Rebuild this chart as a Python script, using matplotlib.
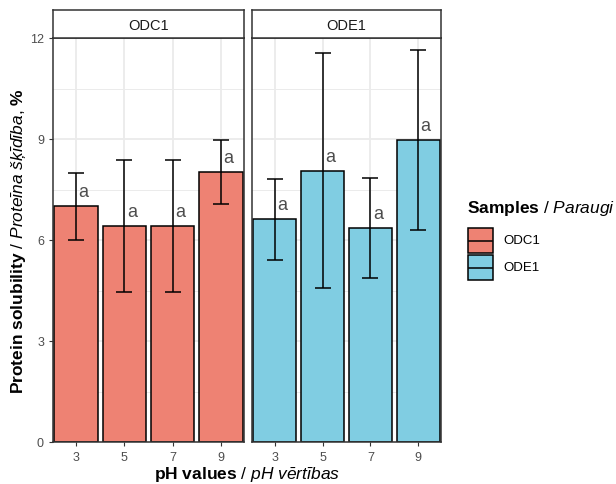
import matplotlib
matplotlib.use("Agg")
import matplotlib.pyplot as plt
import numpy as np
from matplotlib.patches import Rectangle

plt.rcParams['font.family'] = ['Liberation Sans', 'DejaVu Sans']
plt.rcParams['mathtext.fontset'] = 'custom'
plt.rcParams['mathtext.rm'] = 'Liberation Sans'
plt.rcParams['mathtext.it'] = 'Liberation Sans:italic'
plt.rcParams['mathtext.bf'] = 'Liberation Sans:bold'

# data
ph_labels = ['3', '5', '7', '9']
samples = ['ODC1', 'ODE1']
odc1_mean = [7.0, 6.42, 6.42, 8.02]
odc1_err = [1.0, 1.95, 1.95, 0.95]
ode1_mean = [6.62, 8.06, 6.36, 8.97]
ode1_err = [1.2, 3.48, 1.49, 2.68]
letters = ['a', 'a', 'a', 'a']

colors = {'ODC1': '#EE8273', 'ODE1': '#80CDE2'}
means = {'ODC1': odc1_mean, 'ODE1': ode1_mean}
errs = {'ODC1': odc1_err, 'ODE1': ode1_err}

W, H = 616, 485
fig = plt.figure(figsize=(W / 100, H / 100), dpi=100)

def px_axes(x0, y0, x1, y1):
    return fig.add_axes([x0 / W, (H - y1) / H, (x1 - x0) / W, (y1 - y0) / H])

panels = [(53, 244), (252, 441)]
x = np.arange(len(ph_labels))

for i, (s, (xl, xr)) in enumerate(zip(samples, panels)):
    ax = px_axes(xl, 39, xr, 443)
    ax.set_xlim(-0.48, 3.48)
    ax.set_ylim(0, 12)
    ax.set_yticks([0, 3, 6, 9, 12])
    ax.set_yticks([1.5, 4.5, 7.5, 10.5], minor=True)
    ax.set_xticks(x)
    ax.set_xticklabels(ph_labels)
    ax.grid(which='major', color='#EBEBEB', linewidth=1.3)
    ax.grid(which='minor', axis='y', color='#EBEBEB', linewidth=0.7)
    ax.set_axisbelow(True)
    ax.bar(x, means[s], width=0.9, color=colors[s], edgecolor='black', linewidth=1.1, zorder=2)
    ax.errorbar(x, means[s], yerr=errs[s], fmt='none', ecolor='black', elinewidth=1.1,
                capsize=5.8, capthick=1.1, zorder=3)
    for xi, m, lab in zip(x, means[s], letters):
        ax.annotate(lab, (xi, m), xytext=(1.8, 7.2), textcoords='offset points',
                    ha='left', va='baseline', fontsize=13, color='#4D4D4D', zorder=4)
    for sp in ax.spines.values():
        sp.set_color('#333333')
        sp.set_linewidth(1.1)
    ax.tick_params(axis='both', colors='#333333', labelcolor='#4D4D4D', labelsize=9,
                   length=3, width=0.8)
    ax.tick_params(axis='y', which='minor', length=0)
    if i > 0:
        ax.tick_params(axis='y', left=False, labelleft=False)
    # strip
    st = px_axes(xl, 11, xr, 39)
    st.set_xticks([])
    st.set_yticks([])
    for sp in st.spines.values():
        sp.set_color('#333333')
        sp.set_linewidth(1.1)
    st.text(0.5, 0.45, s, ha='center', va='center', fontsize=10.5, color='#1A1A1A',
            transform=st.transAxes)

fig.text(247 / W, (H - 475) / H,
         r'$\mathbf{pH\ values}$ / $\mathit{pH\ vērtības}$',
         ha='center', va='center', fontsize=12.5)
fig.text(19 / W, (H - 241) / H,
         r'$\mathbf{Protein\ solubility}$ / $\mathit{Proteīna\ šķīdība}$, $\mathbf{\%}$',
         ha='center', va='center', rotation=90, fontsize=12.5)

# legend
fig.text(467 / W, (H - 208) / H, r'$\mathbf{Samples}$ / $\mathit{Paraugi}$',
         ha='left', va='center', fontsize=12.5)
for j, s in enumerate(samples):
    y0 = 229 + j * 27
    kx = 468
    fig.patches.append(Rectangle((kx / W, (H - y0 - 25) / H), 25 / W, 25 / H,
                                 transform=fig.transFigure, facecolor=colors[s],
                                 edgecolor='black', linewidth=1.1))
    fig.lines.append(plt.Line2D([(kx + 1) / W, (kx + 24) / W],
                                [(H - y0 - 12.5) / H] * 2, transform=fig.transFigure,
                                color='black', linewidth=1.1))
    fig.text(503 / W, (H - y0 - 12.5) / H, s, ha='left', va='center', fontsize=9.5,
             color='black')

fig.savefig('out.png', dpi=100)
